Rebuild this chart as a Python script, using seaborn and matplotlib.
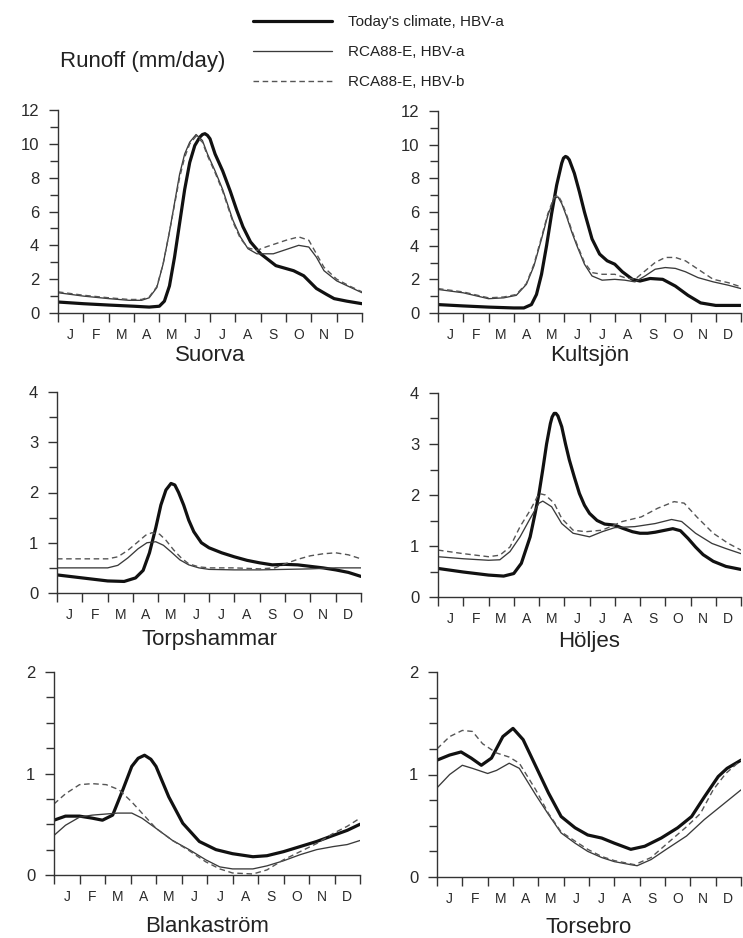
import matplotlib
matplotlib.use("Agg")
import matplotlib.pyplot as plt
import seaborn as sns
import pandas as pd
import numpy as np

# ---------------- data (months 0..12, runoff mm/day) ----------------
MONTH_LABELS = ["J", "F", "M", "A", "M", "J", "J", "A", "S", "O", "N", "D"]
STATIONS = ["Suorva", "Kultsjön", "Torpshammar", "Höljes", "Blankaström", "Torsebro"]
SERIES_LABELS = ["Today's climate, HBV-a", "RCA88-E, HBV-a", "RCA88-E, HBV-b"]
Y_MAX = [12, 12, 4, 4, 2, 2]
Y_MAJOR = [2, 2, 1, 1, 1, 1]
Y_MINOR = [1, 1, 0.5, 0.5, 0.25, 0.25]

# Suorva
SUO_TODAY_X = [0, 1, 2, 3, 3.6, 4.0, 4.2, 4.4, 4.6, 4.8, 5.0, 5.2, 5.4, 5.6, 5.7, 5.8, 5.9, 6.0, 6.2, 6.5, 6.8, 7.05, 7.3, 7.6, 8.0, 8.6, 9.3, 9.7, 10.2, 10.6, 10.9, 11.4, 12]
SUO_TODAY_Y = [0.65, 0.55, 0.47, 0.40, 0.35, 0.4, 0.7, 1.6, 3.3, 5.3, 7.3, 8.9, 9.9, 10.4, 10.55, 10.6, 10.5, 10.3, 9.4, 8.4, 7.2, 6.1, 5.1, 4.2, 3.5, 2.8, 2.5, 2.2, 1.45, 1.1, 0.85, 0.7, 0.55]
SUO_RCA_A_X = [0, 1, 2, 2.8, 3.3, 3.6, 3.9, 4.15, 4.4, 4.6, 4.8, 5.0, 5.2, 5.45, 5.7, 5.9, 6.2, 6.5, 6.9, 7.2, 7.5, 7.85, 8.2, 8.5, 9.0, 9.5, 9.9, 10.2, 10.5, 11.0, 11.5, 12]
SUO_RCA_A_Y = [1.2, 1.0, 0.85, 0.75, 0.75, 0.9, 1.5, 2.9, 4.8, 6.5, 8.2, 9.4, 10.1, 10.55, 10.2, 9.4, 8.4, 7.3, 5.5, 4.5, 3.8, 3.5, 3.5, 3.5, 3.75, 4.0, 3.9, 3.3, 2.5, 1.9, 1.55, 1.2]
SUO_RCA_B_X = [0, 1, 2, 2.8, 3.3, 3.6, 3.9, 4.15, 4.4, 4.6, 4.8, 5.0, 5.2, 5.45, 5.7, 5.9, 6.2, 6.5, 6.9, 7.2, 7.5, 7.85, 8.2, 8.6, 9.0, 9.5, 9.9, 10.2, 10.5, 11.0, 11.5, 12]
SUO_RCA_B_Y = [1.25, 1.05, 0.9, 0.8, 0.8, 0.95, 1.55, 2.9, 4.8, 6.4, 8.0, 9.2, 10.0, 10.45, 10.1, 9.3, 8.3, 7.2, 5.4, 4.4, 3.85, 3.7, 3.9, 4.1, 4.3, 4.5, 4.3, 3.5, 2.7, 2.0, 1.6, 1.25]

# Kultsjön
KUL_TODAY_X = [0, 1, 2, 3, 3.4, 3.7, 3.9, 4.1, 4.3, 4.5, 4.7, 4.9, 4.97, 5.05, 5.12, 5.2, 5.4, 5.6, 5.8, 6.1, 6.4, 6.7, 7.0, 7.3, 7.7, 8.0, 8.4, 8.9, 9.4, 9.9, 10.4, 11.0, 12]
KUL_TODAY_Y = [0.5, 0.42, 0.35, 0.3, 0.3, 0.5, 1.1, 2.3, 4.0, 5.9, 7.6, 8.9, 9.2, 9.3, 9.25, 9.1, 8.3, 7.2, 6.0, 4.4, 3.5, 3.1, 2.9, 2.45, 2.0, 1.9, 2.05, 2.0, 1.6, 1.05, 0.6, 0.45, 0.45]
KUL_RCA_A_X = [0, 1, 2, 2.6, 3.1, 3.5, 3.8, 4.1, 4.35, 4.6, 4.75, 4.9, 5.1, 5.3, 5.5, 5.8, 6.1, 6.5, 7.0, 7.4, 7.8, 8.2, 8.6, 9.0, 9.4, 9.8, 10.3, 10.9, 11.5, 12]
KUL_RCA_A_Y = [1.4, 1.2, 0.85, 0.9, 1.05, 1.7, 2.8, 4.4, 5.8, 6.8, 6.9, 6.5, 5.7, 4.8, 4.0, 2.9, 2.2, 1.95, 2.0, 1.95, 1.85, 2.2, 2.6, 2.7, 2.65, 2.45, 2.1, 1.85, 1.65, 1.45]
KUL_RCA_B_X = [0, 1, 2, 2.6, 3.1, 3.5, 3.8, 4.1, 4.35, 4.6, 4.75, 4.9, 5.1, 5.3, 5.5, 5.8, 6.1, 6.5, 7.0, 7.4, 7.8, 8.2, 8.6, 9.0, 9.4, 9.8, 10.3, 10.9, 11.5, 12]
KUL_RCA_B_Y = [1.45, 1.25, 0.9, 0.95, 1.1, 1.75, 2.9, 4.5, 5.9, 6.9, 7.0, 6.6, 5.8, 4.9, 4.1, 3.0, 2.4, 2.3, 2.3, 2.1, 2.0, 2.5, 3.0, 3.3, 3.3, 3.1, 2.6, 2.0, 1.8, 1.55]

# Torpshammar
TOR_TODAY_X = [0, 1, 2, 2.65, 3.1, 3.4, 3.65, 3.9, 4.1, 4.3, 4.5, 4.65, 4.8, 5.0, 5.2, 5.4, 5.7, 6.0, 6.5, 7.0, 7.5, 8.0, 8.5, 9.0, 9.5, 10.0, 10.5, 11.0, 11.5, 12]
TOR_TODAY_Y = [0.36, 0.3, 0.24, 0.23, 0.3, 0.45, 0.8, 1.3, 1.75, 2.05, 2.18, 2.15, 2.0, 1.75, 1.45, 1.22, 1.0, 0.9, 0.8, 0.72, 0.65, 0.6, 0.56, 0.57, 0.56, 0.53, 0.5, 0.46, 0.41, 0.33]
TOR_RCA_A_X = [0, 1, 2, 2.4, 2.8, 3.2, 3.55, 3.9, 4.2, 4.5, 4.85, 5.2, 5.6, 6.0, 7.0, 8.0, 9.0, 10.0, 11.0, 12]
TOR_RCA_A_Y = [0.5, 0.5, 0.5, 0.55, 0.7, 0.88, 1.0, 1.02, 0.95, 0.82, 0.66, 0.56, 0.5, 0.47, 0.46, 0.46, 0.47, 0.48, 0.5, 0.5]
TOR_RCA_B_X = [0, 1, 2, 2.4, 2.8, 3.2, 3.5, 3.75, 4.05, 4.3, 4.6, 4.9, 5.2, 5.6, 6.0, 7.0, 8.0, 8.6, 9.0, 9.5, 10.0, 10.5, 11.0, 11.5, 12]
TOR_RCA_B_Y = [0.68, 0.68, 0.68, 0.72, 0.85, 1.02, 1.15, 1.2, 1.17, 1.05, 0.86, 0.7, 0.58, 0.52, 0.5, 0.5, 0.48, 0.5, 0.58, 0.67, 0.74, 0.78, 0.8, 0.76, 0.68]

# Höljes
HOL_TODAY_X = [0, 1, 2, 2.6, 3.0, 3.3, 3.65, 3.85, 4.0, 4.15, 4.3, 4.45, 4.52, 4.6, 4.67, 4.75, 4.9, 5.05, 5.2, 5.4, 5.6, 5.8, 6.0, 6.3, 6.6, 7.0, 7.3, 7.7, 8.0, 8.3, 8.6, 8.9, 9.3, 9.6, 9.9, 10.2, 10.5, 10.9, 11.4, 12]
HOL_TODAY_Y = [0.56, 0.49, 0.43, 0.41, 0.46, 0.66, 1.18, 1.65, 2.03, 2.5, 3.0, 3.4, 3.53, 3.6, 3.6, 3.55, 3.34, 3.0, 2.69, 2.35, 2.03, 1.8, 1.64, 1.5, 1.43, 1.41, 1.35, 1.28, 1.25, 1.25, 1.27, 1.3, 1.34, 1.3, 1.15, 0.98, 0.83, 0.7, 0.6, 0.54]
HOL_RCA_A_X = [0, 1, 2, 2.45, 2.85, 3.25, 3.65, 4.0, 4.15, 4.5, 4.9, 5.35, 6.0, 6.5, 7.0, 7.8, 8.6, 9.25, 9.65, 10.2, 10.85, 11.4, 12]
HOL_RCA_A_Y = [0.79, 0.75, 0.72, 0.73, 0.89, 1.18, 1.54, 1.84, 1.88, 1.77, 1.44, 1.25, 1.18, 1.28, 1.36, 1.38, 1.44, 1.52, 1.48, 1.25, 1.05, 0.95, 0.85]
HOL_RCA_B_X = [0, 1, 2, 2.45, 2.85, 3.25, 3.65, 4.0, 4.25, 4.6, 4.9, 5.35, 5.85, 6.5, 7.3, 8.05, 8.7, 9.35, 9.75, 10.25, 10.9, 11.5, 12]
HOL_RCA_B_Y = [0.92, 0.85, 0.79, 0.82, 0.98, 1.38, 1.7, 2.03, 2.0, 1.84, 1.54, 1.31, 1.28, 1.31, 1.48, 1.57, 1.74, 1.87, 1.84, 1.57, 1.25, 1.05, 0.92]

# Blankaström
BLA_TODAY_X = [0, 0.45, 1, 1.5, 1.9, 2.3, 2.7, 3.05, 3.3, 3.55, 3.8, 4.0, 4.5, 5.05, 5.7, 6.35, 7.0, 7.8, 8.35, 9.0, 9.65, 10.3, 10.95, 11.5, 12]
BLA_TODAY_Y = [0.54, 0.58, 0.58, 0.56, 0.54, 0.59, 0.84, 1.07, 1.15, 1.18, 1.14, 1.07, 0.77, 0.51, 0.33, 0.25, 0.21, 0.18, 0.19, 0.23, 0.28, 0.33, 0.39, 0.44, 0.5]
BLA_RCA_A_X = [0, 0.45, 1, 1.5, 2.0, 2.5, 3.05, 3.45, 4.0, 4.65, 5.3, 5.95, 6.5, 7.0, 7.8, 8.35, 9.0, 9.65, 10.3, 10.95, 11.5, 12]
BLA_RCA_A_Y = [0.39, 0.49, 0.57, 0.59, 0.6, 0.61, 0.61, 0.56, 0.46, 0.34, 0.25, 0.15, 0.08, 0.06, 0.06, 0.09, 0.14, 0.2, 0.25, 0.28, 0.3, 0.34]
BLA_RCA_B_X = [0, 0.45, 1, 1.5, 2.05, 2.55, 3.05, 3.45, 4.0, 4.65, 5.3, 5.95, 6.5, 7.0, 7.8, 8.35, 9.0, 9.65, 10.3, 10.95, 11.5, 12]
BLA_RCA_B_Y = [0.7, 0.8, 0.89, 0.9, 0.89, 0.84, 0.72, 0.61, 0.46, 0.34, 0.24, 0.13, 0.06, 0.02, 0.01, 0.05, 0.15, 0.23, 0.31, 0.41, 0.48, 0.56]

# Torsebro
TSB_TODAY_X = [0, 0.5, 0.95, 1.35, 1.75, 2.15, 2.6, 3.0, 3.4, 3.9, 4.4, 4.9, 5.45, 5.95, 6.5, 7.0, 7.65, 8.2, 8.85, 9.5, 10.05, 10.55, 11.1, 11.45, 12]
TSB_TODAY_Y = [1.14, 1.19, 1.22, 1.16, 1.09, 1.16, 1.37, 1.45, 1.34, 1.08, 0.82, 0.59, 0.48, 0.41, 0.38, 0.33, 0.27, 0.3, 0.38, 0.48, 0.59, 0.78, 0.98, 1.06, 1.14]
TSB_RCA_A_X = [0, 0.5, 1.0, 1.4, 2.0, 2.35, 2.85, 3.25, 3.9, 4.4, 4.9, 5.45, 5.95, 6.5, 7.0, 7.65, 7.9, 8.45, 9.05, 9.85, 10.55, 11.2, 12]
TSB_RCA_A_Y = [0.87, 1.0, 1.09, 1.06, 1.01, 1.04, 1.11, 1.06, 0.8, 0.61, 0.43, 0.33, 0.25, 0.19, 0.15, 0.12, 0.11, 0.17, 0.27, 0.4, 0.56, 0.69, 0.85]
TSB_RCA_B_X = [0, 0.5, 1.0, 1.4, 1.8, 2.35, 2.85, 3.25, 3.9, 4.4, 4.9, 5.45, 5.95, 6.5, 7.0, 7.8, 8.45, 9.1, 9.85, 10.4, 10.9, 11.4, 12]
TSB_RCA_B_Y = [1.25, 1.37, 1.43, 1.42, 1.3, 1.21, 1.17, 1.11, 0.85, 0.62, 0.44, 0.35, 0.27, 0.2, 0.16, 0.12, 0.19, 0.33, 0.49, 0.62, 0.85, 1.01, 1.14]

PANEL_SERIES = [
    [(SUO_TODAY_X, SUO_TODAY_Y), (SUO_RCA_A_X, SUO_RCA_A_Y), (SUO_RCA_B_X, SUO_RCA_B_Y)],
    [(KUL_TODAY_X, KUL_TODAY_Y), (KUL_RCA_A_X, KUL_RCA_A_Y), (KUL_RCA_B_X, KUL_RCA_B_Y)],
    [(TOR_TODAY_X, TOR_TODAY_Y), (TOR_RCA_A_X, TOR_RCA_A_Y), (TOR_RCA_B_X, TOR_RCA_B_Y)],
    [(HOL_TODAY_X, HOL_TODAY_Y), (HOL_RCA_A_X, HOL_RCA_A_Y), (HOL_RCA_B_X, HOL_RCA_B_Y)],
    [(BLA_TODAY_X, BLA_TODAY_Y), (BLA_RCA_A_X, BLA_RCA_A_Y), (BLA_RCA_B_X, BLA_RCA_B_Y)],
    [(TSB_TODAY_X, TSB_TODAY_Y), (TSB_RCA_A_X, TSB_RCA_A_Y), (TSB_RCA_B_X, TSB_RCA_B_Y)],
]

# ---------------- style ----------------
sns.set_theme(style="ticks")
plt.rcParams["font.family"] = ["Liberation Sans", "DejaVu Sans"]

W, H = 743, 938
DPI = 100
fig = plt.figure(figsize=(W / DPI, H / DPI), dpi=DPI)
fig.patch.set_facecolor("white")

# panel boxes in pixels: left, right, y of zero, y of top
BOXES = [
    (58, 362, 313, 110),
    (438, 741, 313, 111),
    (57, 361, 593, 392),
    (438, 741, 597, 393),
    (54, 360, 875, 672),
    (437, 741, 877, 672),
]
NAME_OFFSET_PX = [42, 42, 46, 45, 51, 50]

LINE_STYLES = [
    dict(color="#111111", linewidth=2.3, linestyle="-"),
    dict(color="#3a3a3a", linewidth=0.95, linestyle="-"),
    dict(color="#555555", linewidth=1.0, linestyle=(0, (4, 2.6))),
]

AX_COLOR = "#333333"
handles = None
for i, (box, series) in enumerate(zip(BOXES, PANEL_SERIES)):
    l, r, y0, yt = box
    ax = fig.add_axes([l / W, 1 - y0 / H, (r - l) / W, (y0 - yt) / H])
    ax.set_facecolor("white")
    for (xs, ys), lab, st in zip(series, SERIES_LABELS, LINE_STYLES):
        df = pd.DataFrame({"month": xs, "runoff": ys})
        sns.lineplot(data=df, x="month", y="runoff", ax=ax, label=lab,
                     legend=False, estimator=None, sort=False, **st)
    if handles is None:
        handles, labels = ax.get_legend_handles_labels()
    ax.set_xlabel("")
    ax.set_ylabel("")
    ax.set_xlim(0, 12)
    ax.set_ylim(0, Y_MAX[i])
    for s in ["top", "right"]:
        ax.spines[s].set_visible(False)
    for s in ["left", "bottom"]:
        ax.spines[s].set_color(AX_COLOR)
        ax.spines[s].set_linewidth(1.0)
    # x ticks: month boundaries (major, unlabeled), mid-month labels (minor)
    ax.set_xticks(np.arange(0, 13, 1))
    ax.set_xticklabels([])
    ax.set_xticks(np.arange(0.5, 12, 1), minor=True)
    ax.set_xticklabels(MONTH_LABELS, minor=True)
    ax.tick_params(axis="x", which="major", direction="out", length=6.5, width=1.0, color=AX_COLOR)
    ax.tick_params(axis="x", which="minor", length=0, pad=10.5, labelsize=10, labelcolor="#2a2a2a")
    # y ticks
    ax.set_yticks(np.arange(0, Y_MAX[i] + 1e-9, Y_MAJOR[i]))
    ax.set_yticklabels([f"{v:g}" for v in np.arange(0, Y_MAX[i] + 1e-9, Y_MAJOR[i])])
    ax.set_yticks(np.arange(0, Y_MAX[i] + 1e-9, Y_MINOR[i]), minor=True)
    ax.tick_params(axis="y", which="major", direction="out", length=6.5, width=1.0,
                   color=AX_COLOR, pad=7, labelsize=12, labelcolor="#2a2a2a")
    ax.tick_params(axis="y", which="minor", direction="out", length=5.5, width=1.0, color=AX_COLOR)
    ax.annotate(STATIONS[i], xy=(0.5, 0), xycoords="axes fraction",
                xytext=(0, -NAME_OFFSET_PX[i] * 72 / DPI), textcoords="offset points",
                ha="center", va="center", fontsize=16, color="#222222")

fig.text(60 / W, 1 - 62 / H, "Runoff (mm/day)", ha="left", va="center",
         fontsize=16, color="#222222")

leg = fig.legend(handles, SERIES_LABELS, loc="upper left",
                 bbox_to_anchor=(253 / W, 1 - 15 / H), frameon=False,
                 fontsize=11, handlelength=5.2, handletextpad=1.0,
                 labelspacing=1.05, borderpad=0, borderaxespad=0)
for t in leg.get_texts():
    t.set_color("#222222")

fig.savefig("out.png", dpi=DPI, facecolor="white")
